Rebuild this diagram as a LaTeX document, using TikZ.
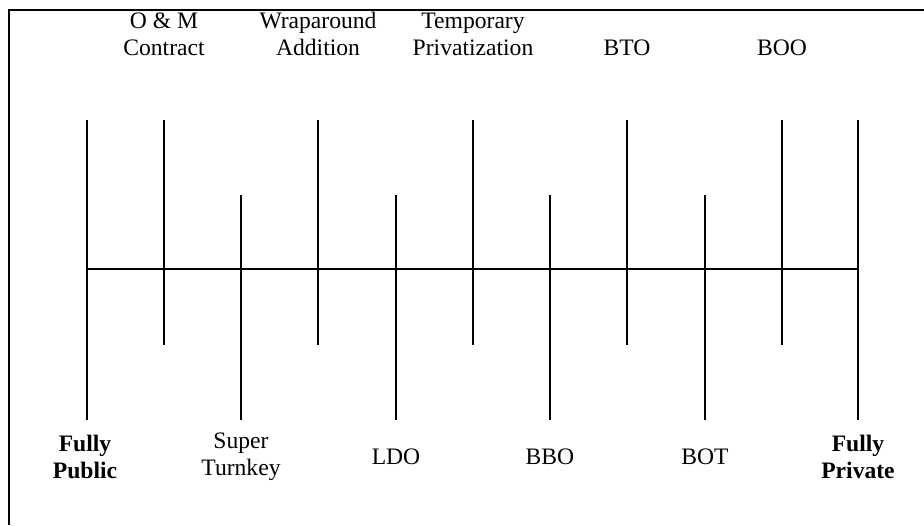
\documentclass[tikz,border=0pt]{standalone}
\usepackage{fontspec}
\setmainfont{Liberation Serif}
\usepackage{tikz}
\usetikzlibrary{positioning}

\begin{document}
\begin{tikzpicture}[x=0.5pt, y=-0.5pt, line width=1pt,
    lbl/.style={align=center, inner sep=0pt, font=\fontsize{11.8}{13.6}\selectfont},
    toplbl/.style={lbl, anchor=south},
    botlbl/.style={lbl, anchor=center}]
    \useasboundingbox (0,0) rectangle (924,525);
    \draw[line width=0.8pt] (9,525) -- (9,10) -- (924,10);

    % points on the axis
    \coordinate (pub) at (87,269);
    \coordinate (om) at (164,269);
    \coordinate (st) at (241,269);
    \coordinate (wa) at (318,269);
    \coordinate (ldo) at (396,269);
    \coordinate (tp) at (473,269);
    \coordinate (bbo) at (550,269);
    \coordinate (bto) at (627,269);
    \coordinate (bot) at (705,269);
    \coordinate (boo) at (782,269);
    \coordinate (priv) at (858,269);

    \draw (pub) -- (priv);

    % end markers
    \draw ([yshift=74.5pt]pub) coordinate (pubtop) -- ([yshift=-75.5pt]pub) coordinate (pubbot);
    \draw ([yshift=74.5pt]priv) coordinate (privtop) -- ([yshift=-75.5pt]priv) coordinate (privbot);

    % upper ticks
    \draw ([yshift=74.5pt]om) coordinate (omtop) -- ([yshift=-38pt]om);
    \draw ([yshift=74.5pt]wa) coordinate (watop) -- ([yshift=-38pt]wa);
    \draw ([yshift=74.5pt]tp) coordinate (tptop) -- ([yshift=-38pt]tp);
    \draw ([yshift=74.5pt]bto) coordinate (btotop) -- ([yshift=-38pt]bto);
    \draw ([yshift=74.5pt]boo) coordinate (bootop) -- ([yshift=-38pt]boo);

    % lower ticks
    \draw ([yshift=37pt]st) -- ([yshift=-75.5pt]st) coordinate (stbot);
    \draw ([yshift=37pt]ldo) -- ([yshift=-75.5pt]ldo) coordinate (ldobot);
    \draw ([yshift=37pt]bbo) -- ([yshift=-75.5pt]bbo) coordinate (bbobot);
    \draw ([yshift=37pt]bot) -- ([yshift=-75.5pt]bot) coordinate (botbot);

    % labels above
    \node[toplbl] (omlbl) at (164,57) {O \& M\\Contract};
    \node[toplbl] (walbl) at (318,57) {Wraparound\\Addition};
    \node[toplbl] (tplbl) at (473,57) {Temporary\\Privatization};
    \node[toplbl] (btolbl) at (627,57) {BTO};
    \node[toplbl] (boolbl) at (782,57) {BOO};

    % labels below
    \node[botlbl, font=\fontsize{11.8}{13.6}\selectfont\bfseries] (publbl) at (85,457) {Fully\\Public};
    \node[botlbl] (stlbl) at (241,457) {Super\\Turnkey};
    \node[botlbl] (ldolbl) at (396,457) {LDO};
    \node[botlbl] (bbolbl) at (550,457) {BBO};
    \node[botlbl] (botlbl) at (705,457) {BOT};
    \node[botlbl, font=\fontsize{11.8}{13.6}\selectfont\bfseries] (privlbl) at (858,457) {Fully\\Private};
\end{tikzpicture}
\end{document}
